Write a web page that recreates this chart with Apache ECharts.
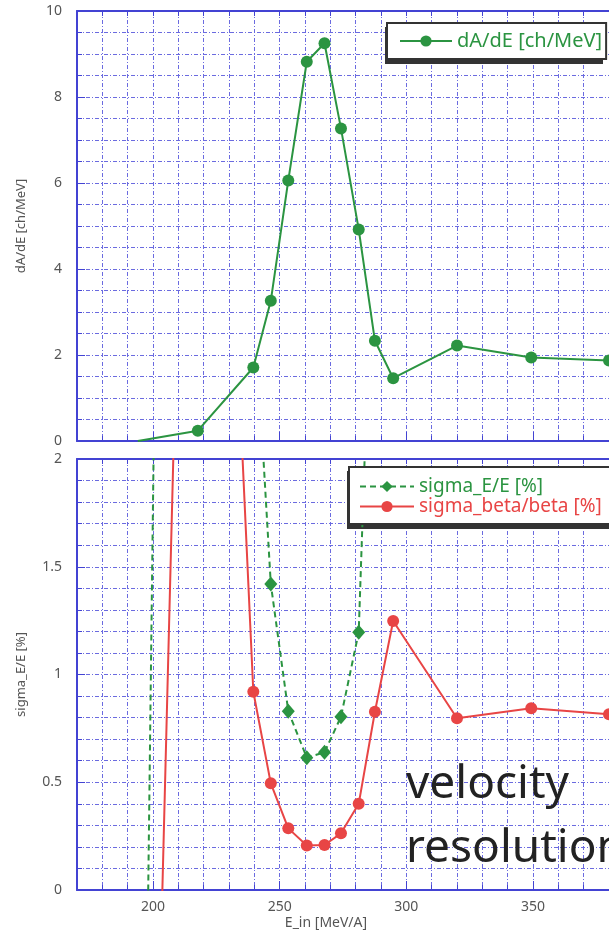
<!DOCTYPE html>
<html lang="en">
<head>
    <meta charset="UTF-8">
    <title>dA/dE and resolution</title>
    <style>
        html, body { margin: 0; padding: 0; background: #fff; }
        #chart { width: 609px; height: 935px; }
    </style>
</head>
<body>
<div id='chart'></div>
<script src='https://cdn.jsdelivr.net/npm/echarts@6/dist/echarts.min.js'></script>
<script>
    // E_in [MeV/A] of each point (shared by all series)
    var eIn = [194, 217.7, 239.6, 246.5, 253.4, 260.7, 267.7, 274.2, 281.2, 287.6, 294.8, 320, 349.3, 380];
    // dA/dE [ch/MeV]
    var dAdE = [0, 0.24, 1.71, 3.26, 6.06, 8.82, 9.25, 7.27, 4.92, 2.33, 1.46, 2.22, 1.94, 1.87];
    // sigma_E/E [%]  (first points and last run off the panel)
    var sigmaE = [-3.9, 18.6, 2.8, 1.42, 0.83, 0.614, 0.639, 0.804, 1.196, 3.4];
    // sigma_beta/beta [%]
    var sigmaBeta = [-4.5, 6.5, 0.92, 0.495, 0.286, 0.207, 0.209, 0.263, 0.40, 0.827, 1.248, 0.797, 0.843, 0.815];

    var xTicks = [200, 250, 300, 350];
    var yTicksTop = [0, 2, 4, 6, 8, 10];
    var yTicksBottom = [0, 0.5, 1, 1.5, 2];

    var frame = '#4343d3';
    var gridCol = '#6b6be0';
    var green = '#2b9441';
    var red = '#e84545';
    var font = 'Noto Sans';

    function pairs(xs, ys) {
        return ys.map(function (v, i) { return [xs[i], v]; });
    }

    // first dA/dE point sits on the axis with no marker
    var dAdEData = pairs(eIn, dAdE);
    dAdEData[0] = {value: dAdEData[0], symbol: 'none'};

    function xAxes(gi, withLabels) {
        return [
            {
                gridIndex: gi, type: 'value', min: 170, max: 380, interval: 10, position: 'bottom',
                axisLine: {show: true, onZero: false, lineStyle: {color: frame, width: 2}},
                axisTick: {show: true, inside: true, length: 5, lineStyle: {color: frame}},
                axisLabel: {show: false},
                splitLine: {show: true, lineStyle: {color: gridCol, width: 1, type: [4, 2, 1, 2]}}
            },
            {
                gridIndex: gi, type: 'value', min: 170, max: 380, position: 'bottom',
                axisLine: {show: false, onZero: false},
                axisTick: {show: true, inside: true, length: 9, customValues: xTicks, lineStyle: {color: frame}},
                axisLabel: {show: withLabels, customValues: xTicks, margin: 10, color: '#555', fontSize: 14, fontFamily: font},
                splitLine: {show: false}
            },
            {
                gridIndex: gi, type: 'value', min: 170, max: 380, interval: 10, position: 'top',
                axisLine: {show: true, onZero: false, lineStyle: {color: frame, width: 2}},
                axisTick: {show: true, inside: true, length: 5, lineStyle: {color: frame}},
                axisLabel: {show: false},
                splitLine: {show: false}
            }
        ];
    }

    function yAxes(gi, max, step, major, name) {
        return [
            {
                gridIndex: gi, type: 'value', min: 0, max: max, interval: step, position: 'left',
                name: name, nameLocation: 'middle', nameGap: 49,
                nameTextStyle: {color: '#555', fontSize: 13, fontFamily: font},
                axisLine: {show: true, onZero: false, lineStyle: {color: frame, width: 2}},
                axisTick: {show: true, inside: true, length: 5, lineStyle: {color: frame}},
                axisLabel: {show: false},
                splitLine: {show: true, lineStyle: {color: gridCol, width: 1, type: [4, 2, 1, 2]}}
            },
            {
                gridIndex: gi, type: 'value', min: 0, max: max, position: 'left',
                axisLine: {show: false, onZero: false},
                axisTick: {show: true, inside: true, length: 8, customValues: major, lineStyle: {color: frame}},
                axisLabel: {show: true, customValues: major, margin: 15, color: '#555', fontSize: 14, fontFamily: font},
                splitLine: {show: false}
            }
        ];
    }

    var chart = echarts.init(document.getElementById('chart'));
    var legendBox = {
        backgroundColor: '#fff',
        borderColor: '#333',
        borderWidth: 2,
        borderRadius: 0
    };

    var option = {
        animation: false,
        grid: [
            {left: 77, top: 11, right: -18, height: 430},
            {left: 77, top: 459, right: -18, height: 431}
        ],
        xAxis: xAxes(0, false).concat(xAxes(1, true)),
        yAxis: yAxes(0, 10, 0.5, yTicksTop, 'dA/dE [ch/MeV]')
            .concat(yAxes(1, 2, 0.1, yTicksBottom, 'sigma_E/E [%]')),
        legend: [
            Object.assign({
                left: 387, top: 23, padding: [8, 4, 8, 12],
                itemWidth: 52, itemHeight: 14,
                textStyle: {fontSize: 20, fontFamily: font},
                data: [{name: 'dA/dE [ch/MeV]', textStyle: {color: green}}]
            }, legendBox),
            Object.assign({
                left: 349, top: 467, orient: 'vertical', padding: [10, 12, 8, 10],
                itemWidth: 54, itemHeight: 14, itemGap: 1,
                textStyle: {fontSize: 19, lineHeight: 18, fontFamily: font},
                data: [
                    {name: 'sigma_E/E [%]', textStyle: {color: green}},
                    {name: 'sigma_beta/beta [%]', textStyle: {color: red}}
                ]
            }, legendBox)
        ],
        graphic: [
            // drop shadows behind the two legend boxes
            {type: 'rect', z: 3, shape: {x: 385, y: 27, width: 218, height: 37}, style: {fill: '#333'}},
            {type: 'rect', z: 3, shape: {x: 347, y: 471, width: 300, height: 58}, style: {fill: '#333'}},
            {
                type: 'text', left: 406, top: 753, z: 5,
                style: {text: 'velocity\nresolution', font: '46px "Noto Sans"', lineHeight: 64, fill: '#222'}
            },
            {
                type: 'text', x: 326, y: 923,
                style: {text: 'E_in [MeV/A]', font: '14px "Noto Sans"', fill: '#555', align: 'center', verticalAlign: 'middle'}
            }
        ],
        series: [
            {
                name: 'dA/dE [ch/MeV]', type: 'line', xAxisIndex: 0, yAxisIndex: 0,
                data: dAdEData, symbol: 'circle', symbolSize: 12,
                lineStyle: {color: green, width: 2}, itemStyle: {color: green}
            },
            {
                name: 'sigma_E/E [%]', type: 'line', xAxisIndex: 3, yAxisIndex: 2,
                data: pairs(eIn, sigmaE), symbol: 'diamond', symbolSize: [13, 15],
                lineStyle: {color: green, width: 2, type: [6, 4]}, itemStyle: {color: green}
            },
            {
                name: 'sigma_beta/beta [%]', type: 'line', xAxisIndex: 3, yAxisIndex: 2,
                data: pairs(eIn, sigmaBeta), symbol: 'circle', symbolSize: 12,
                lineStyle: {color: red, width: 2}, itemStyle: {color: red}
            }
        ]
    };
    chart.setOption(option);
</script>
</body>
</html>
